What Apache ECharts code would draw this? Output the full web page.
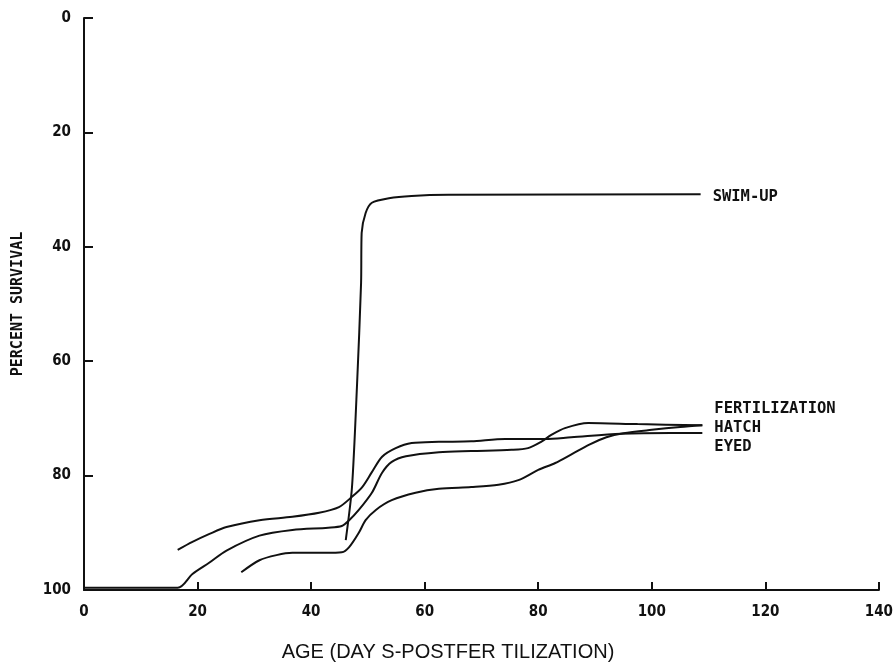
<!DOCTYPE html>
<html>
<head>
<meta charset="utf-8">
<script src="https://cdn.jsdelivr.net/npm/echarts@6/dist/echarts.min.js"></script>
<style>
  html, body { margin: 0; padding: 0; background: #fff; }
  #chart { width: 896px; height: 671px; }
</style>
</head>
<body>
<div id="chart"></div>
<script>
// Cumulative percent survival by age, one curve per starting stage.
// Each point is [age in days post-fertilization, percent survival].
const fertilization = [
  [0, 99.6], [16.5, 99.6], [19.1, 97.2], [22.1, 95.2], [25.1, 93.1], [30.9, 90.5],
  [36.7, 89.5], [43.0, 89.1], [45.4, 88.8], [46.7, 87.8], [48.4, 86.0], [50.7, 83.0],
  [52.5, 79.5], [54.2, 77.6], [56.7, 76.6], [62.5, 75.9], [68.2, 75.7], [75.3, 75.5],
  [78.2, 75.2], [80.5, 74.1], [82.3, 72.9], [84.7, 71.7], [88.8, 70.8], [97.5, 71.0],
  [108.9, 71.2]
];
const eyed = [
  [16.5, 93.0], [19.1, 91.6], [22.1, 90.2], [25.1, 89.0], [30.9, 87.8], [36.7, 87.2],
  [41.4, 86.5], [44.9, 85.5], [47.2, 83.7], [49.0, 82.0], [50.7, 79.4], [52.5, 76.7],
  [54.9, 75.2], [57.7, 74.3], [62.5, 74.1], [68.2, 74.0], [74.2, 73.6], [81.2, 73.6],
  [85.8, 73.3], [94.6, 72.7], [103.3, 72.55], [108.9, 72.55]
];
const hatch = [
  [27.7, 96.9], [30.9, 94.8], [33.9, 93.9], [36.7, 93.5], [42.6, 93.5], [45.4, 93.4],
  [46.7, 92.5], [48.4, 90.0], [49.6, 87.8], [51.4, 86.0], [54.2, 84.3], [58.4, 83.0],
  [62.5, 82.3], [68.2, 82.0], [73.0, 81.6], [76.5, 80.8], [80.0, 79.0], [83.0, 77.8],
  [86.0, 76.2], [89.0, 74.6], [92.0, 73.3], [95.0, 72.6], [100.0, 72.0], [105.0, 71.5],
  [108.9, 71.2]
];
const swimUp = [
  [46.1, 91.3], [47.2, 82.0], [48.1, 63.8], [48.8, 46.3], [48.9, 37.6], [49.6, 34.1],
  [50.7, 32.3], [53.7, 31.5], [57.7, 31.1], [64.2, 30.9], [108.6, 30.8]
];

const xTicks = { min: 0, max: 140, step: 20 };
const yTicks = { min: 0, max: 100, step: 20 };

const monoFont = '"DejaVu Sans Mono", monospace';
const tickFont = '"DejaVu Sans Condensed", "DejaVu Sans", sans-serif';

function curve(name, data, labelDy, smooth) {
  return {
    name: name,
    type: 'line',
    data: data,
    smooth: smooth,
    symbol: 'none',
    lineStyle: { color: '#111', width: 2 },
    endLabel: {
      show: true,
      formatter: name,
      color: '#111',
      fontFamily: monoFont,
      fontWeight: 'bold',
      fontSize: 15.5,
      distance: 12,
      offset: [0, labelDy]
    },
    z: 3
  };
}

const chart = echarts.init(document.getElementById('chart'), null, { renderer: 'canvas' });
chart.setOption({
  animation: false,
  backgroundColor: '#fff',
  grid: { left: 84, right: 14, top: 18, bottom: 81, containLabel: false },
  xAxis: {
    type: 'value',
    min: xTicks.min,
    max: xTicks.max,
    interval: xTicks.step,
    axisLine: { show: true, onZero: false, lineStyle: { color: '#111', width: 2 } },
    axisTick: { show: true, inside: true, length: 8, lineStyle: { color: '#111', width: 2 } },
    splitLine: { show: false },
    axisLabel: {
      color: '#111', fontFamily: tickFont, fontWeight: 'bold', fontSize: 15, margin: 15
    }
  },
  yAxis: {
    type: 'value',
    inverse: true,
    min: yTicks.min,
    max: yTicks.max,
    interval: yTicks.step,
    name: 'PERCENT SURVIVAL',
    nameLocation: 'middle',
    nameRotate: 90,
    nameGap: 58,
    nameTextStyle: { color: '#111', fontFamily: monoFont, fontWeight: 'bold', fontSize: 15 },
    axisLine: { show: true, onZero: false, lineStyle: { color: '#111', width: 2 } },
    axisTick: { show: true, inside: true, length: 9, lineStyle: { color: '#111', width: 2 } },
    splitLine: { show: false },
    axisLabel: {
      color: '#111', fontFamily: tickFont, fontWeight: 'bold', fontSize: 15, margin: 13
    }
  },
  graphic: [{
    type: 'text',
    left: 'center',
    top: 642,
    style: {
      text: 'AGE (DAY S-POSTFER TILIZATION)',
      fill: '#111',
      font: '20px "Liberation Sans", Arial, sans-serif'
    }
  }],
  series: [
    curve('FERTILIZATION', fertilization, -16, 0.3),
    curve('HATCH', hatch, 3, 0.3),
    curve('EYED', eyed, 14, 0.3),
    curve('SWIM-UP', swimUp, 3, 0.25)
  ]
});
</script>
</body>
</html>
